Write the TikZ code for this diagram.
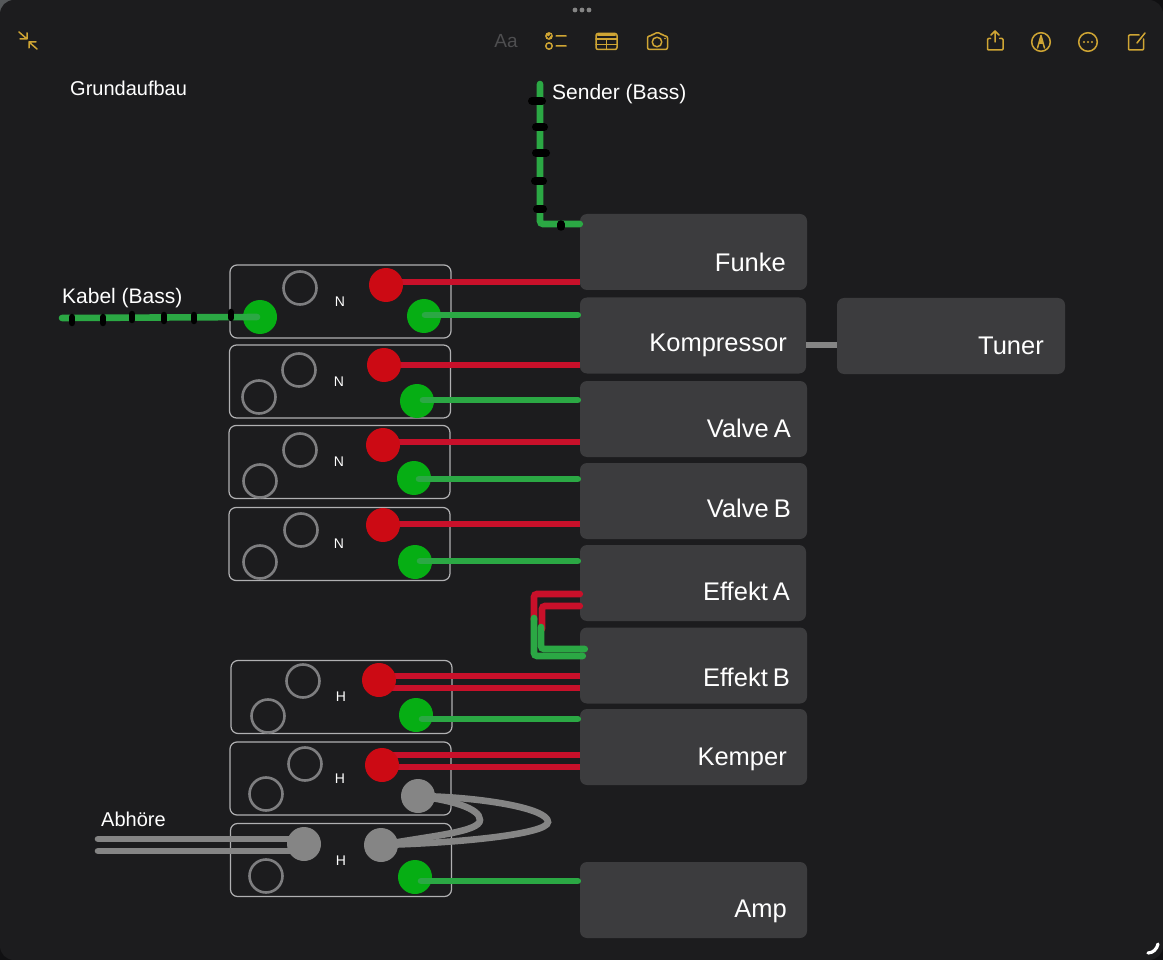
\documentclass[tikz,border=0pt]{standalone}
\usepackage{fontspec}
\setmainfont{Liberation Sans}
\newfontfamily\devfont[WordSpace=0.7]{Liberation Sans}
\definecolor{win}{HTML}{1C1C1E}
\definecolor{corner}{HTML}{101012}
\definecolor{cornerlight}{HTML}{55585A}
\definecolor{boxc}{HTML}{3C3C3E}
\definecolor{wred}{HTML}{C8102A}
\definecolor{wgreen}{HTML}{2BA844}
\definecolor{cred}{HTML}{CC0A14}
\definecolor{cgreen}{HTML}{06AE14}
\definecolor{cgray}{HTML}{858585}
\definecolor{panelc}{HTML}{B0B0B2}
\definecolor{hollow}{HTML}{7E7E80}
\definecolor{icon}{HTML}{CFA534}
\tikzset{
  devbox/.style={fill=boxc,rounded corners=7pt,inner sep=0,minimum width=#1,minimum height=76},
  devtxt/.style={anchor=east,text=white,font=\devfont\fontsize{25.5}{28}\selectfont,inner sep=0},
  panel/.style={draw=panelc,line width=1.2,rounded corners=7pt,inner sep=0,minimum width=221,minimum height=73},
  pl/.style={text=white,font=\fontsize{14}{16}\selectfont,inner sep=0},
  lab/.style={anchor=west,text=white,font=\fontsize{21}{24}\selectfont,inner sep=0},
  hole/.style={circle,draw=hollow,line width=2.6,minimum size=33,inner sep=0},
  rdot/.style={circle,fill=cred,minimum size=34,inner sep=0},
  gdot/.style={circle,fill=cgreen,minimum size=34,inner sep=0},
  ydot/.style={circle,fill=cgray,minimum size=34,inner sep=0},
  wr/.style={draw=wred,line width=6.6},
  wg/.style={draw=wgreen,line width=6.6,line cap=round},
  wy/.style={draw=cgray,line width=6.6,line cap=round},
  blob/.style={draw=black,line cap=round},
  ic/.style={draw=icon,line width=1.5,line cap=round,line join=round},
}
\begin{document}
\begin{tikzpicture}[x=1pt,y=-1pt]
\useasboundingbox (0,0) rectangle (1163,960);
\fill[corner] (0,0) rectangle (1163,960);
\fill[cornerlight] (0,0) rectangle (12,12);
\fill[win,rounded corners=14pt] (0,0) rectangle (1163,960);
% top toolbar
\foreach \x in {575,582,589} \fill[cgray] (\x,10) circle (2.4);
\draw[ic] (19,32) -- (27,39) (27,33) -- (27,39) -- (20,39);
\draw[ic] (37,49) -- (29,42) (29,48) -- (29,42) -- (36,42);
\node[text=white!22!win,font=\fontsize{19}{22}\selectfont,inner sep=0] (aa) at (506,41) {Aa};
\fill[icon] (549,36) circle (3.9);
\draw[win,line width=1] (547.3,36) -- (548.6,37.5) -- (551,34.5);
\draw[ic] (549,46) circle (3.2) (556,36) -- (566,36) (556,46) -- (566,46);
\draw[ic,rounded corners=2pt] (596,33.5) rectangle (617,49.5);
\draw[ic] (596,39) -- (617,39) (596,44.5) -- (617,44.5) (606.5,39) -- (606.5,49.5);
\draw[ic,line width=2.5] (598,35) -- (615,35);
\draw[ic,rounded corners=2pt] (647.5,36) -- (652,36) -- (654,33) -- (661,33) -- (663,36) -- (667.5,36) -- (667.5,49.5) -- (647.5,49.5) -- cycle;
\draw[ic] (657,42) circle (4.8);
\fill[icon] (665,38.5) circle (0.9);
\draw[ic,rounded corners=1pt] (990.5,38.5) -- (987.5,38.5) -- (987.5,50) -- (1003,50) -- (1003,38.5) -- (999.5,38.5);
\draw[ic] (995,42) -- (995,31) (991,35) -- (995,31) -- (999,35);
\draw[ic] (1041,42) circle (9.3) (1037.5,48) -- (1041,35.5) -- (1044.5,48);
\fill[icon] (1041,37.5) -- (1043,44) -- (1039,44) -- cycle;
\draw[ic] (1088,42) circle (9.3);
\foreach \x in {1084,1088,1092} \fill[icon] (\x,42) circle (1.2);
\draw[ic,rounded corners=1pt] (1139,35) -- (1128.5,35) -- (1128.5,50) -- (1143.5,50) -- (1143.5,39);
\draw[ic] (1137,43) -- (1145,33);
\draw[white,line width=3.2,line cap=round] (1148,953) .. controls (1153,953) and (1157,949) .. (1158,944);
% text
\node[lab,font=\fontsize{20}{22}\selectfont] (grund) at (70,88) {Grundaufbau};
\node[lab] (sender) at (552,94) {Sender (Bass)};
\node[lab] (kabel) at (62,298) {Kabel (Bass)};
\node[lab,font=\fontsize{20}{22}\selectfont] (abh) at (101,819) {Abhöre};
% devices
\node[devbox=227] (funke) at (693.5,252) {};
\node[devbox=226] (komp) at (693,335.5) {};
\node[devbox=228] (tuner) at (951,336) {};
\node[devbox=227] (valvea) at (693.5,419) {};
\node[devbox=227] (valveb) at (693.5,501) {};
\node[devbox=226] (effa) at (693,583) {};
\node[devbox=227] (effb) at (693.5,665.5) {};
\node[devbox=227] (kemper) at (693.5,747) {};
\node[devbox=227] (amp) at (693.5,900) {};
\node[devtxt] (tfunke) at (786,262) {Funke};
\node[devtxt] (tkomp) at (787,345) {Kompressor};
\node[devtxt] (ttuner) at (1044,346) {Tuner};
\node[devtxt] (tvalvea) at (791,428) {Valve A};
\node[devtxt] (tvalveb) at (791,508) {Valve B};
\node[devtxt] (teffa) at (790,591) {Effekt A};
\node[devtxt] (teffb) at (790,677) {Effekt B};
\node[devtxt] (tkemper) at (787,759) {Kemper};
\node[devtxt] (tamp) at (787,911) {Amp};
% panels
\node[panel] (p1) at (340.5,301.5) {};
\node[panel] (p2) at (340,381.5) {};
\node[panel] (p3) at (339.5,462) {};
\node[panel] (p4) at (339.5,544) {};
\node[panel] (p5) at (341.5,697) {};
\node[panel] (p6) at (340.5,778.5) {};
\node[panel] (p7) at (341,860) {};
\node[pl] (n1) at (340,302) {N};
\node[pl] (n2) at (339,382) {N};
\node[pl] (n3) at (339,462) {N};
\node[pl] (n4) at (339,544) {N};
\node[pl] (h5) at (341,697) {H};
\node[pl] (h6) at (340,779) {H};
\node[pl] (h7) at (341,861) {H};
% sockets
\node[hole] (a1) at (300,288) {};
\node[hole] (a2) at (299,370) {};
\node[hole] (b2) at (259,397) {};
\node[hole] (a3) at (300,450) {};
\node[hole] (b3) at (260,481) {};
\node[hole] (a4) at (301,530) {};
\node[hole] (b4) at (260,562) {};
\node[hole] (a5) at (303,681) {};
\node[hole] (b5) at (268,716) {};
\node[hole] (a6) at (305,764) {};
\node[hole] (b6) at (266,794) {};
\node[hole] (b7) at (266,876) {};
\node[gdot] (g0) at (260,317) {};
\node[gdot] (g1) at (424,316) {};
\node[gdot] (g2) at (417,401) {};
\node[gdot] (g3) at (414,478) {};
\node[gdot] (g4) at (415,562) {};
\node[gdot] (g5) at (416,715) {};
\node[gdot] (g7) at (415,877) {};
% wires
\coordinate (r1c) at (386,285);
\coordinate (r2c) at (384,365);
\coordinate (r3c) at (383,445);
\coordinate (r4c) at (383,525);
\coordinate (r5c) at (379,680);
\coordinate (r6c) at (382,765);
\draw[wr] ([yshift=3]r1c) -- ([yshift=3]r1c -| funke.west);
\draw[wr] (r2c) -- (r2c -| komp.west);
\draw[wr] ([yshift=3]r3c) -- ([yshift=3]r3c -| valvea.west);
\draw[wr] ([yshift=1]r4c) -- ([yshift=1]r4c -| valveb.west);
\draw[wr] ([yshift=4]r5c) -- ([yshift=4]r5c -| effb.west);
\draw[wr] ([yshift=-8]r5c) -- ([yshift=-8]r5c -| effb.west);
\draw[wr] ([yshift=10]r6c) -- ([yshift=10]r6c -| kemper.west);
\draw[wr] ([yshift=-2]r6c) -- ([yshift=-2]r6c -| kemper.west);
\node[rdot] (r1) at (r1c) {};
\node[rdot] (r2) at (r2c) {};
\node[rdot] (r3) at (r3c) {};
\node[rdot] (r4) at (r4c) {};
\node[rdot] (r5) at (r5c) {};
\node[rdot] (r6) at (r6c) {};
\draw[wg] ([xshift=1,yshift=1]g1.center) -- ([xshift=-2,yshift=1]g1.center -| komp.west);
\draw[wg] ([xshift=6,yshift=1]g2.center) -- ([yshift=1,xshift=-2]g2.center -| valvea.west);
\draw[wg] ([xshift=5,yshift=-1]g3.center) -- ([yshift=-1,xshift=-2]g3.center -| valveb.west);
\draw[wg] ([xshift=5,yshift=1]g4.center) -- ([yshift=1,xshift=-2]g4.center -| effa.west);
\draw[wg] ([xshift=6,yshift=-4]g5.center) -- ([yshift=-4,xshift=-2]g5.center -| kemper.west);
\draw[wg] ([xshift=6,yshift=-4]g7.center) -- ([yshift=-4,xshift=-2]g7.center -| amp.west);
% effect loop
\draw[wr,line cap=round,rounded corners=3pt] (effa.west |- 0,594) -- (534,594) -- (534,620);
\draw[wr,line cap=round,rounded corners=3pt] (effa.west |- 0,606) -- (542,606) -- (542,629);
\draw[wg,rounded corners=3pt] (534,618) -- (534,656) -- ([xshift=3]effb.west |- 0,656);
\draw[wg,rounded corners=3pt] (541,627) -- (541,649) -- ([xshift=5]effb.west |- 0,649);
% tuner
\draw[wy,line cap=butt] (komp.east |- 0,345) -- (tuner.west |- 0,345);
% monitor wires
\coordinate (y6c) at (418,796);
\coordinate (y7bc) at (381,845);
\coordinate (y7ac) at (304,844);
\coordinate (abh1) at (98,839);
\coordinate (abh2) at (98,851);
\draw[wy] (abh1) -- (abh1 -| y7ac);
\draw[wy] (abh2) -- (abh2 -| y7ac);
\draw[wy] (y6c) .. controls (480,797) and (548,808) .. (548,822) .. controls (548,834) and (460,843) .. (y7bc);
\draw[wy] (y6c) .. controls (450,800) and (480,808) .. (480,820) .. controls (480,832) and (430,836) .. (y7bc);
\node[ydot] (y6) at (y6c) {};
\node[ydot] (y7a) at (y7ac) {};
\node[ydot] (y7b) at (y7bc) {};
% kabel
\coordinate (kabelend) at (62,318);
\draw[wg] (kabelend) -- ([xshift=-3]g0.center);
\coordinate (s0) at (540,84);
\coordinate (s1) at (540,224);
\draw[wg,rounded corners=3pt] (s0) -- (s1) -- (funke.west |- s1);
\foreach \x/\y in {72/320,103/320,132/317,164/318,194/318,231/315}
  \draw[blob,line width=6.5] (\x,\y-3) -- (\x,\y+3);
\foreach \x/\y/\w in {537/101/5,540/127/4,541/153/5,539/181/4,540/209/3}
  \draw[blob,line width=8] (\x-\w,\y) -- (\x+\w,\y);
\draw[blob,line width=7.5] (561,224) -- (561,227);
\end{tikzpicture}
\end{document}
